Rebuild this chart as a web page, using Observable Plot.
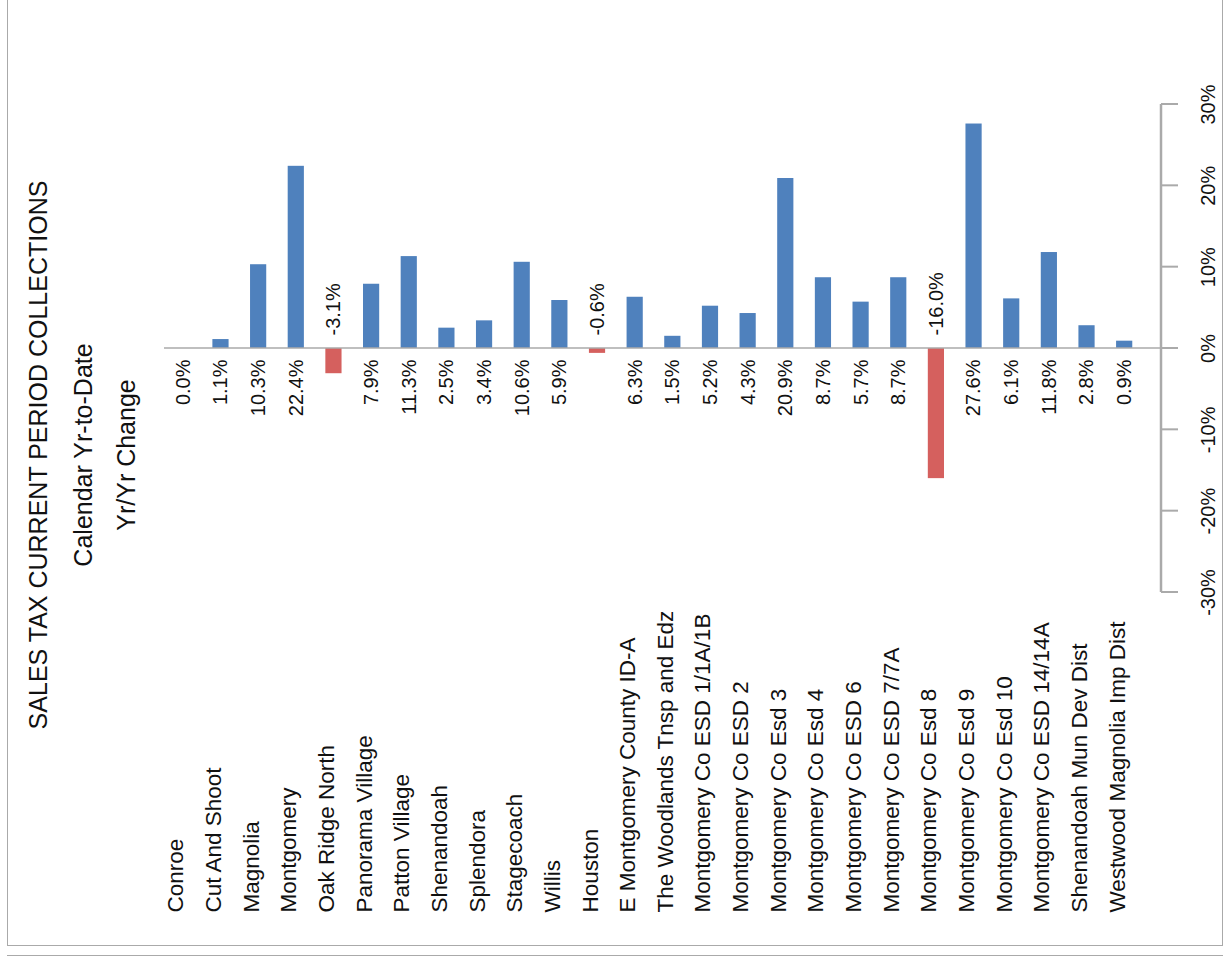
<!DOCTYPE html>
<html>
<head>
<meta charset="utf-8">
<script src="https://cdn.jsdelivr.net/npm/d3@7"></script>
<script src="https://cdn.jsdelivr.net/npm/@observablehq/plot@0.6"></script>
<style>
  body { margin: 0; background: #fff; font-family: "Liberation Sans", Arial, sans-serif; }
  #wrap { position: relative; width: 1225px; height: 958px; }
  #frame { position: absolute; left: 7px; top: -1px; width: 1214px; height: 945px; border: 1px solid #aaa; }
  #bottomline { position: absolute; left: 7px; top: 955px; width: 1216px; border-top: 1px solid #aaa; }
  #chart { position: absolute; left: 0; top: 0; }
</style>
</head>
<body>
<div id="wrap"><div id="frame"></div><div id="bottomline"></div><div id="chart"></div></div>
<script>
const names = ['Conroe', 'Cut And Shoot', 'Magnolia', 'Montgomery', 'Oak Ridge North', 'Panorama Village',
  'Patton Village', 'Shenandoah', 'Splendora', 'Stagecoach', 'Willis', 'Houston', 'E Montgomery County ID-A',
  'The Woodlands Tnsp and Edz', 'Montgomery Co ESD 1/1A/1B', 'Montgomery Co ESD 2', 'Montgomery Co Esd 3',
  'Montgomery Co Esd 4', 'Montgomery Co ESD 6', 'Montgomery Co ESD 7/7A', 'Montgomery Co Esd 8',
  'Montgomery Co Esd 9', 'Montgomery Co Esd 10', 'Montgomery Co ESD 14/14A', 'Shenandoah Mun Dev Dist',
  'Westwood Magnolia Imp Dist']
const changes = [0.0, 1.1, 10.3, 22.4, -3.1, 7.9, 11.3, 2.5, 3.4, 10.6, 5.9, -0.6, 6.3, 1.5, 5.2, 4.3, 20.9,
  8.7, 5.7, 8.7, -16.0, 27.6, 6.1, 11.8, 2.8, 0.9]
const yTicks = [-30, -20, -10, 0, 10, 20, 30]

const data = names.map((name, i) => ({name, value: changes[i]}))
const pos = data.filter(d => d.value >= 0)
const neg = data.filter(d => d.value < 0)
const font = '"Liberation Sans", Arial, sans-serif'

const chart = Plot.plot({
  width: 1225,
  height: 958,
  marginTop: 104,
  marginBottom: 366,
  marginLeft: 164,
  marginRight: 82,
  style: {fontFamily: font, background: 'transparent'},
  x: {domain: names, paddingInner: 0.57, paddingOuter: 0.285, round: false, axis: null},
  y: {domain: [-30, 30], axis: null},
  marks: [
    Plot.barY(data, {x: 'name', y: 'value', fill: d => d.value < 0 ? '#d5605e' : '#4f81bd'}),
    Plot.text(pos, {x: 'name', y: 0, text: d => d.value.toFixed(1) + '%', rotate: -90,
      textAnchor: 'end', dy: 11, fontSize: 20, fill: '#111'}),
    Plot.text(neg, {x: 'name', y: 0, text: d => d.value.toFixed(1) + '%', rotate: -90,
      textAnchor: 'start', dy: -13, fontSize: 20, fill: '#111'}),
    Plot.text(data, {x: 'name', text: 'name', frameAnchor: 'bottom', dy: 320, rotate: -90,
      textAnchor: 'start', fontSize: 22.5, fill: '#111'}),
    Plot.text(yTicks, {y: d => d, text: d => d + '%', frameAnchor: 'right', dx: 65, rotate: -90,
      textAnchor: 'middle', fontSize: 20, fill: '#111'})
  ]
})
document.getElementById('chart').append(chart)

const svg = d3.select(chart)
const y = chart.scale('y')
const axisX = 1161
const g = svg.append('g').attr('stroke', '#aaa')
g.append('line').attr('x1', 164).attr('x2', axisX).attr('y1', y.apply(0)).attr('y2', y.apply(0)).attr('stroke-width', 1.5)
g.append('line').attr('x1', axisX).attr('x2', axisX).attr('y1', y.apply(30)).attr('y2', y.apply(-30)).attr('stroke-width', 2.5)
g.selectAll('line.tk').data(yTicks).join('line').attr('class', 'tk')
  .attr('x1', axisX).attr('x2', axisX + 17).attr('y1', d => y.apply(d)).attr('y2', d => y.apply(d)).attr('stroke-width', 2)

// left titles, rotated
const titles = [
  {t: 'SALES TAX CURRENT PERIOD COLLECTIONS', x: 47},
  {t: 'Calendar Yr-to-Date', x: 92},
  {t: 'Yr/Yr Change', x: 135}
]
svg.selectAll('text.ttl').data(titles).join('text')
  .attr('class', 'ttl')
  .attr('transform', d => `translate(${d.x},455) rotate(-90)`)
  .attr('text-anchor', 'middle')
  .attr('font-size', 25)
  .attr('font-family', font)
  .attr('fill', '#111')
  .text(d => d.t)
</script>
</body>
</html>
